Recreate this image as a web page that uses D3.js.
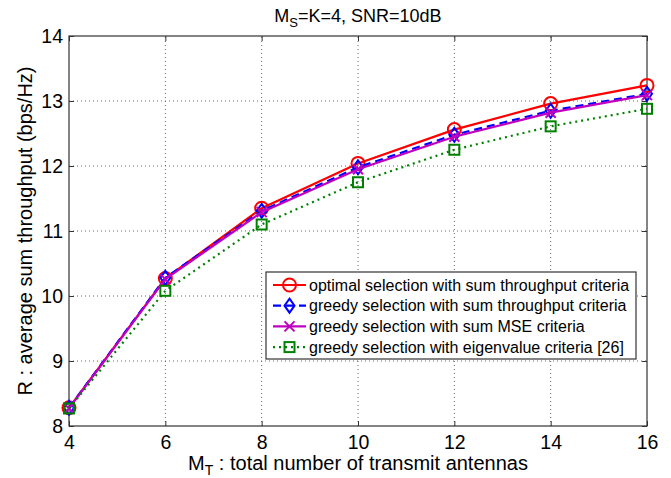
<!DOCTYPE html>
<html>
<head>
<meta charset="utf-8">
<script src="https://cdn.jsdelivr.net/npm/d3@7"></script>
<style>
  body { margin: 0; background: #fff; }
  text { font-family: "Liberation Sans", Arial, sans-serif; fill: #000; }
</style>
</head>
<body>
<div id="chart"></div>
<script>
// data
const antennas = [4, 6, 8, 10, 12, 14, 16];
const optimalThroughput = [8.28, 10.27, 11.35, 12.04, 12.56, 12.96, 13.24];
const greedyThroughput = [8.28, 10.28, 11.31, 11.98, 12.48, 12.85, 13.11];
const greedyMSE = [8.27, 10.26, 11.29, 11.95, 12.45, 12.82, 13.09];
const greedyEigen = [8.27, 10.08, 11.1, 11.75, 12.25, 12.61, 12.88];
const xTicks = [4, 6, 8, 10, 12, 14, 16];
const yTicks = [8, 9, 10, 11, 12, 13, 14];

const series = [
  {name: "optimal selection with sum throughput criteria", values: optimalThroughput, color: "#ff0000", dash: null, marker: "circle"},
  {name: "greedy selection with sum throughput criteria", values: greedyThroughput, color: "#0000ff", dash: "8,5", marker: "diamond"},
  {name: "greedy selection with sum MSE criteria", values: greedyMSE, color: "#bf00bf", dash: null, marker: "cross"},
  {name: "greedy selection with eigenvalue criteria [26]", values: greedyEigen, color: "#008000", dash: "2,4", marker: "square"}
];

const W = 671, H = 478;
const m = {left: 69, right: 24, top: 36, bottom: 52};

const svg = d3.select("#chart").append("svg").attr("width", W).attr("height", H);

const x = d3.scaleLinear().domain([4, 16]).range([m.left, W - m.right]);
const y = d3.scaleLinear().domain([8, 14]).range([H - m.bottom, m.top]);

// grid
svg.append("g").selectAll("line").data(xTicks.slice(1, -1)).join("line")
  .attr("x1", d => x(d)).attr("x2", d => x(d))
  .attr("y1", y(8)).attr("y2", y(14))
  .attr("stroke", "#666").attr("stroke-width", 1).attr("stroke-dasharray", "1,3");
svg.append("g").selectAll("line").data(yTicks.slice(1, -1)).join("line")
  .attr("x1", x(4)).attr("x2", x(16))
  .attr("y1", d => y(d)).attr("y2", d => y(d))
  .attr("stroke", "#666").attr("stroke-width", 1).attr("stroke-dasharray", "1,3");

// axes, ticks inward like matlab
const tick = 5;
svg.append("g").attr("transform", `translate(0,${y(8)})`)
  .call(d3.axisBottom(x).tickValues(xTicks).tickSize(-tick).tickPadding(9).tickFormat(d3.format("d")))
  .call(g => g.select(".domain").remove());
svg.append("g").attr("transform", `translate(0,${y(14)})`)
  .call(d3.axisTop(x).tickValues(xTicks).tickSize(-tick).tickFormat(""))
  .call(g => g.select(".domain").remove());
svg.append("g").attr("transform", `translate(${x(4)},0)`)
  .call(d3.axisLeft(y).tickValues(yTicks).tickSize(-tick).tickPadding(6).tickFormat(d3.format("d")))
  .call(g => g.select(".domain").remove());
svg.append("g").attr("transform", `translate(${x(16)},0)`)
  .call(d3.axisRight(y).tickValues(yTicks).tickSize(-tick).tickFormat(""))
  .call(g => g.select(".domain").remove());
svg.selectAll(".tick line").attr("stroke", "#333");
svg.selectAll(".tick text").style("font-size", "19.5px").style("font-family", "'Liberation Sans', Arial, sans-serif");

svg.append("rect")
  .attr("x", x(4)).attr("y", y(14))
  .attr("width", x(16) - x(4)).attr("height", y(8) - y(14))
  .attr("fill", "none").attr("stroke", "#333").attr("stroke-width", 1.2);

// markers
function drawMarker(g, type, color, cx, cy) {
  if (type === "circle") {
    g.append("circle").attr("cx", cx).attr("cy", cy).attr("r", 6.5)
      .attr("fill", "none").attr("stroke", color).attr("stroke-width", 2);
  } else if (type === "diamond") {
    g.append("path").attr("d", `M${cx},${cy - 7}L${cx + 5},${cy}L${cx},${cy + 7}L${cx - 5},${cy}Z`)
      .attr("fill", "none").attr("stroke", color).attr("stroke-width", 2);
  } else if (type === "cross") {
    g.append("path").attr("d", `M${cx - 5},${cy - 5}L${cx + 5},${cy + 5}M${cx - 5},${cy + 5}L${cx + 5},${cy - 5}`)
      .attr("fill", "none").attr("stroke", color).attr("stroke-width", 2);
  } else {
    g.append("rect").attr("x", cx - 5).attr("y", cy - 5).attr("width", 10).attr("height", 10)
      .attr("fill", "none").attr("stroke", color).attr("stroke-width", 2);
  }
}

const line = d3.line().x((d, i) => x(antennas[i])).y(d => y(d));

// plotted in legend order, so magenta ends up over the blue dashes
series.forEach(s => {
  const g = svg.append("g");
  g.append("path").datum(s.values).attr("d", line)
    .attr("fill", "none").attr("stroke", s.color).attr("stroke-width", 2.2)
    .attr("stroke-dasharray", s.dash);
  s.values.forEach((v, i) => drawMarker(g, s.marker, s.color, x(antennas[i]), y(v)));
});

// legend
const lg = svg.append("g");
lg.append("rect").attr("x", 266).attr("y", 272).attr("width", 370).attr("height", 87)
  .attr("fill", "#fff").attr("stroke", "#333").attr("stroke-width", 1.2);
series.forEach((s, i) => {
  const ly = 285 + i * 20.7;
  lg.append("line").attr("x1", 273).attr("x2", 306).attr("y1", ly).attr("y2", ly)
    .attr("stroke", s.color).attr("stroke-width", 2.2).attr("stroke-dasharray", s.dash);
  drawMarker(lg, s.marker, s.color, 289.5, ly);
  lg.append("text").attr("x", 309).attr("y", ly + 5.5).style("font-size", "16px").text(s.name);
});

// title
const title = svg.append("text").attr("x", (x(4) + x(16)) / 2).attr("y", 22)
  .attr("text-anchor", "middle").style("font-size", "18px");
title.append("tspan").text("M");
title.append("tspan").attr("dy", 5).style("font-size", "13px").text("S");
title.append("tspan").attr("dy", -5).text("=K=4, SNR=10dB");

// x label
const xl = svg.append("text").attr("x", (x(4) + x(16)) / 2).attr("y", 470)
  .attr("text-anchor", "middle").style("font-size", "20px");
xl.append("tspan").text("M");
xl.append("tspan").attr("dy", 5).style("font-size", "14px").text("T");
xl.append("tspan").attr("dy", -5).text(" : total number of transmit antennas");

// y label
svg.append("text").attr("transform", `translate(32,${(y(8) + y(14)) / 2}) rotate(-90)`)
  .attr("text-anchor", "middle").style("font-size", "20px")
  .text("R : average sum throughput (bps/Hz)");
</script>
</body>
</html>
